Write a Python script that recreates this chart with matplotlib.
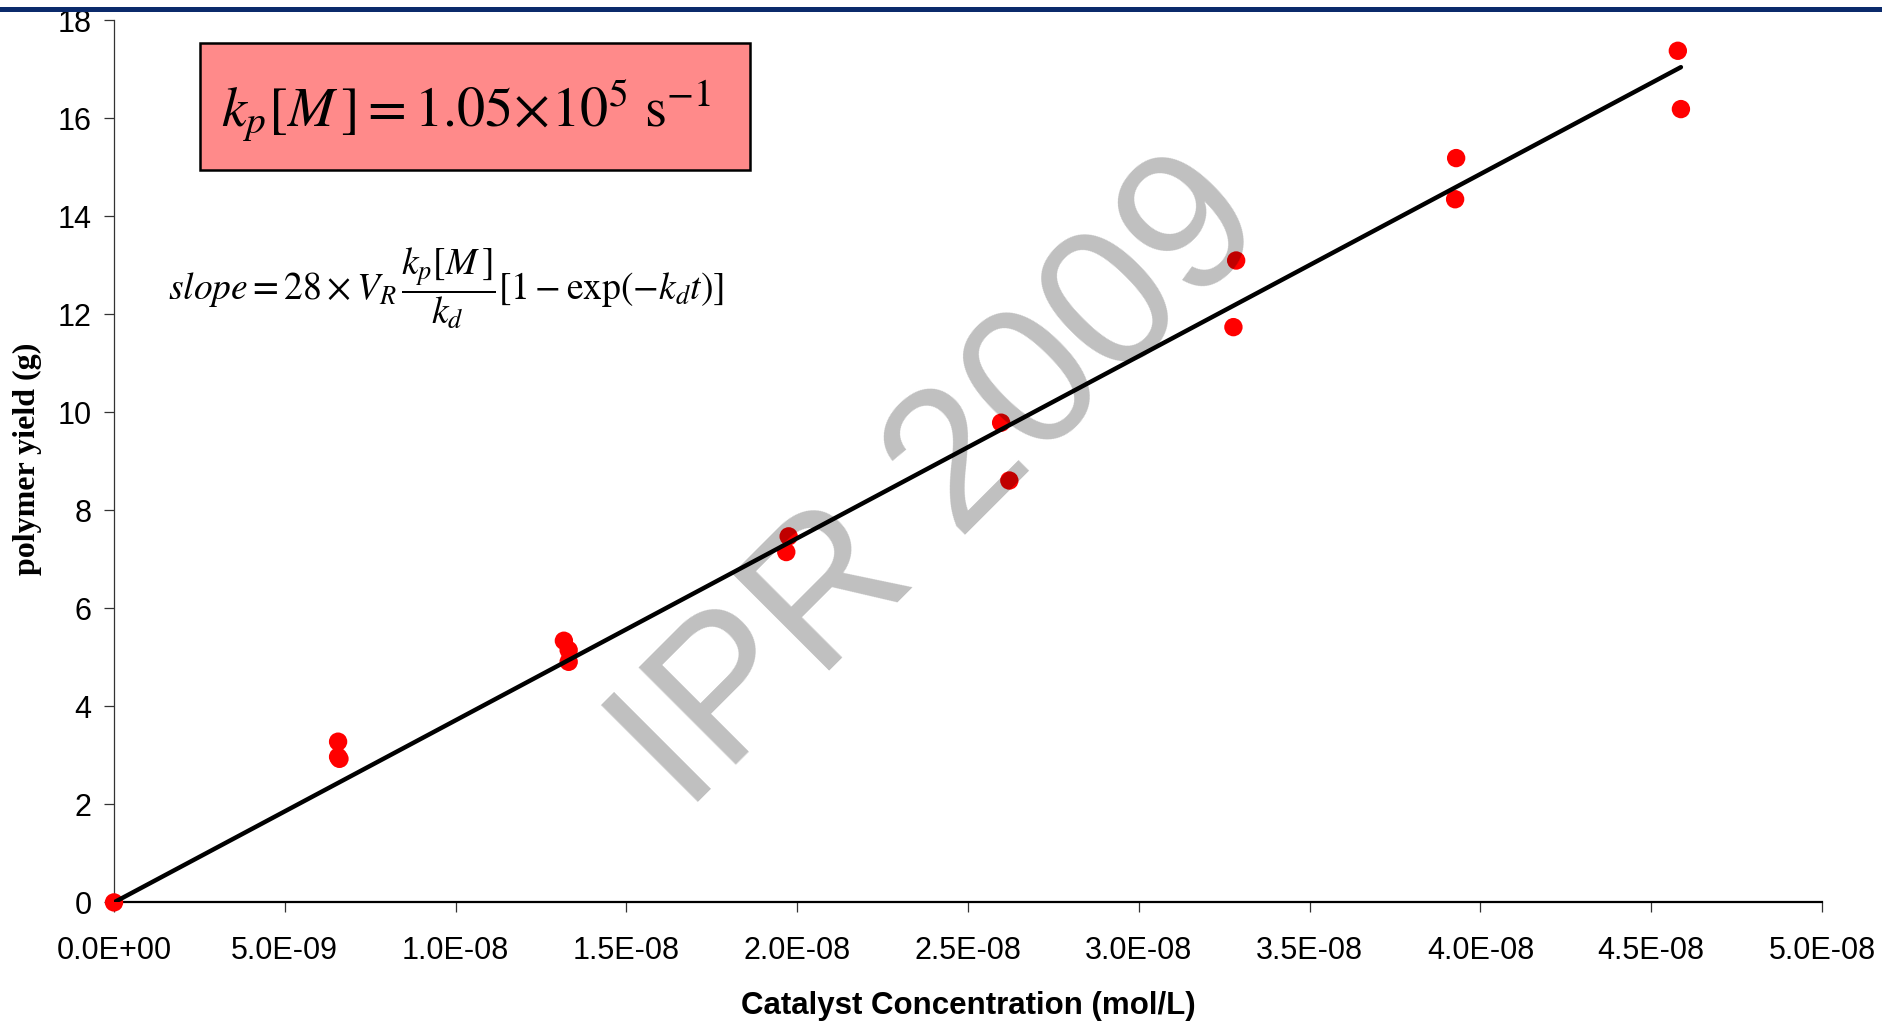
import numpy as np
import matplotlib
matplotlib.use("Agg")
import matplotlib.pyplot as plt
from matplotlib.patches import Rectangle

# ---- data ----
conc = [0.0, 6.56e-9, 6.56e-9, 6.60e-9, 13.17e-9, 13.31e-9, 13.31e-9,
        19.75e-9, 19.68e-9, 25.97e-9, 26.21e-9, 32.85e-9, 32.77e-9,
        39.29e-9, 39.26e-9, 45.78e-9, 45.87e-9]
yield_g = [0.0, 3.28, 2.97, 2.93, 5.34, 5.15, 4.91,
           7.47, 7.15, 9.79, 8.61, 13.10, 11.74,
           15.19, 14.35, 17.38, 16.19]
x_ticks = [0, 5e-9, 1e-8, 1.5e-8, 2e-8, 2.5e-8, 3e-8, 3.5e-8, 4e-8, 4.5e-8, 5e-8]
y_ticks = [0, 2, 4, 6, 8, 10, 12, 14, 16, 18]
x_label = "Catalyst Concentration (mol/L)"
y_label = "polymer yield (g)"
box_text = r"$k_p[M\,]=1.05\!\times\!10^5\ \mathrm{s}^{-1}$"
eq_text = r"$slope = 28\times V_R\,\dfrac{k_p[M\,]}{k_d}[1-\mathrm{exp}(-k_d t)]$"
watermark = "IPR 2009"

plt.rcParams['mathtext.fontset'] = 'stix'
W, H = 1882, 1024
fig = plt.figure(figsize=(W / 100, H / 100), dpi=100)
fig.patch.set_facecolor('white')

left, right, bottom, top = 114, 1822, 902.4, 20.4
ax = fig.add_axes([left / W, 1 - bottom / H, (right - left) / W, (bottom - top) / H])

x = np.array(conc)
y = np.array(yield_g)
ax.scatter(x, y, s=175, color='#FF0000', edgecolors='none', zorder=3, clip_on=False)

# trend line through the origin (least squares)
slope = np.sum(x * y) / np.sum(x * x)
xl = np.array([0.0, x.max()])
ax.plot(xl, slope * xl, color='black', lw=3.2, zorder=4, solid_capstyle='round')

ax.set_xlim(0, 5e-8)
ax.set_ylim(0, 18)
ax.set_xticks(x_ticks)
ax.set_xticklabels([f"{v:.1E}" for v in x_ticks])
ax.set_yticks(y_ticks)
ax.set_yticklabels([str(v) for v in y_ticks])

for s in ['top', 'right']:
    ax.spines[s].set_visible(False)
ax.spines['left'].set_linewidth(0.9)
ax.spines['left'].set_color('#333333')
ax.spines['bottom'].set_linewidth(1.6)
ax.spines['bottom'].set_color('black')

ax.tick_params(axis='x', direction='out', length=7.2, width=0.9, color='#333333',
               pad=17, labelsize=22)
ax.tick_params(axis='y', direction='out', length=7.2, width=0.9, color='#333333',
               pad=9, labelsize=22)
for lab in ax.get_xticklabels() + ax.get_yticklabels():
    lab.set_fontfamily('Liberation Sans')

ax.set_xlabel(x_label, fontfamily='Liberation Sans', fontweight='bold', fontsize=22.5)
ax.xaxis.label.set_va('center')
ax.xaxis.set_label_coords(0.5, -0.118)
ax.set_ylabel(y_label, fontfamily='Liberation Serif', fontweight='bold', fontsize=23)
ax.yaxis.label.set_va('center')
ax.yaxis.set_label_coords((27 - left) / (right - left), 0.503)

# salmon box with k_p[M]
bx0, bx1, by0, by1 = 200, 750, 43, 170
fig.add_artist(Rectangle((bx0 / W, 1 - by1 / H), (bx1 - bx0) / W, (by1 - by0) / H,
                         transform=fig.transFigure, facecolor='#FF8A8A',
                         edgecolor='black', lw=1.8, zorder=5))
fig.text(((bx0 + bx1) / 2 - 9) / W, 1 - 127 / H, box_text, fontsize=40.5,
         ha='center', va='baseline', zorder=6)

# slope equation
fig.text(168 / W, 1 - 300 / H, eq_text, fontsize=27, ha='left', va='baseline', zorder=6)

# watermark
fig.text(978 / W, 1 - 522 / H, watermark, fontfamily='Liberation Sans',
         fontsize=143, color='black', alpha=0.25, rotation=45,
         rotation_mode='anchor', ha='center', va='baseline', zorder=10)

# top navy bar
fig.add_artist(Rectangle((0, 1 - 12.3 / H), 1, 5.6 / H, transform=fig.transFigure,
                         facecolor='#0b2a6b', edgecolor='none', zorder=20))

fig.savefig('out.png', dpi=100)
